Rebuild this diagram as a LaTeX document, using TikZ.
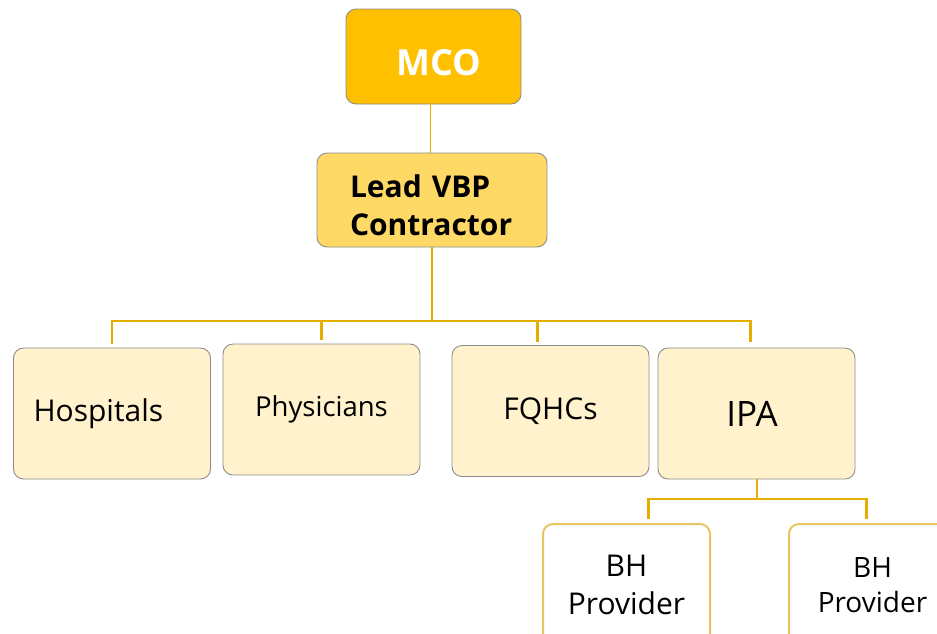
\documentclass[tikz,border=0pt]{standalone}
\usepackage{fontspec}
\setmainfont{Open Sans}
\usepackage{tikz}
\usepackage{xcolor}
\usetikzlibrary{calc}

\definecolor{mcogold}{HTML}{FFC000}
\definecolor{leadgold}{HTML}{FFD966}
\definecolor{palegold}{HTML}{FFF2CC}
\definecolor{linkgold}{HTML}{E6AC00}
\definecolor{bhedge}{HTML}{E8C560}
\definecolor{boxedge}{HTML}{8C8C8C}

\begin{document}
\begin{tikzpicture}[x=1pt, y=-1pt,
    orgbox/.style={rectangle, rounded corners=10pt, draw=boxedge, line width=0.9pt, inner sep=0pt},
    unitbox/.style={orgbox, fill=palegold, minimum width=197pt, minimum height=131pt},
    bhbox/.style={rectangle, rounded corners=10pt, draw=bhedge, line width=2pt, fill=white, minimum width=167pt, minimum height=122pt, inner sep=0pt, align=center},
    link/.style={color=linkgold, line width=2.2pt}]
    \useasboundingbox (0,0) rectangle (937,633);

            \node[orgbox, fill=mcogold, minimum width=175pt, minimum height=95pt, text height=38pt, text depth=0pt, text=white, font=\fontsize{36}{38}\selectfont\bfseries] (mco) at (433.5,56.5) {\hspace{10pt}MCO};
            \node[orgbox, fill=leadgold, minimum width=230pt, minimum height=94pt, inner xsep=33pt, text width=164pt, text height=32pt, text depth=37pt, align=left, font=\fontsize{30}{37.5}\selectfont\bfseries] (lead) at (432,200) {Lead VBP\\Contractor};
            \node[unitbox, inner xsep=20pt, text width=157pt, align=left, font=\fontsize{30}{32}\selectfont] (hosp) at (112,413.5) {Hospitals};
            \node[unitbox, font=\fontsize{27.5}{30}\selectfont] (phys) at (321.5,409.5) {Physicians};
            \node[unitbox, font=\fontsize{30}{32}\selectfont] (fqhc) at (550.5,411) {FQHCs};
            \node[unitbox, font=\fontsize{35}{38}\selectfont] (ipa) at (756.5,413.5) {\hspace{-9pt}IPA};
            \node[bhbox, font=\fontsize{30}{38}\selectfont] (bhA) at (626.5,585) {BH\\Provider};
            \node[bhbox, font=\fontsize{28}{35}\selectfont] (bhB) at (872.5,585) {BH\\Provider};

            \coordinate (bus) at (431,321);
            \coordinate (subbus) at (757,499);

            \draw[link, line width=1.8pt] ([xshift=-3pt]mco.south) -- ([xshift=-3pt]mco.south |- lead.north);
            \draw[link] (lead.south) -- (lead.south |- bus);
            \draw[link, shorten >=4pt] (lead.south |- bus) -| (hosp.north);
            \draw[link, shorten >=4pt] (lead.south |- bus) -| (phys.north);
            \draw[link, shorten >=3pt] (lead.south |- bus) -| ([xshift=-13pt]fqhc.north);
            \draw[link, shorten >=6pt] (lead.south |- bus) -| ([xshift=-6pt]ipa.north);

            \draw[link] (ipa.south -| subbus) -- (subbus);
            \draw[link, shorten >=4pt] (subbus) -| ([xshift=22pt]bhA.north);
            \draw[link, shorten >=4pt] (subbus) -| ([xshift=-6pt]bhB.north);

        \end{tikzpicture}
\end{document}
